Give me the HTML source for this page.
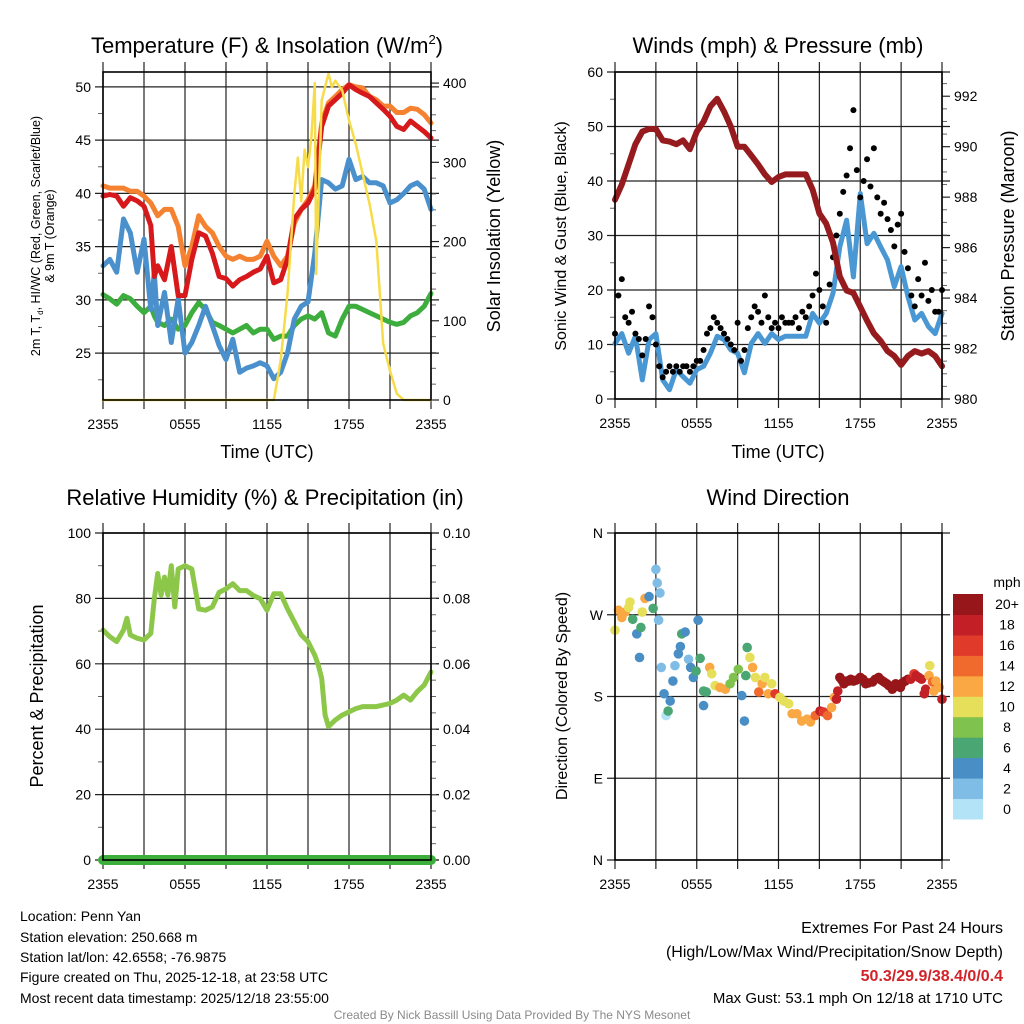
<!DOCTYPE html>
<html><head><meta charset="utf-8"><style>
html,body{margin:0;padding:0;background:#fff}
svg{display:block;font-family:"Liberation Sans",Arial,sans-serif}
</style></head><body>
<svg id="c" width="1024" height="1024" viewBox="0 0 1024 1024" xmlns="http://www.w3.org/2000/svg">
<g id="static">
<text x="267" y="53" font-size="22" text-anchor="middle">Temperature (F) &amp; Insolation (W/m<tspan font-size="13" dy="-9">2</tspan><tspan dy="9">)</tspan></text>
<text x="778" y="53" font-size="22" text-anchor="middle">Winds (mph) &amp; Pressure (mb)</text>
<text x="265" y="505" font-size="22" text-anchor="middle">Relative Humidity (%) &amp; Precipitation (in)</text>
<text x="778" y="505" font-size="22" text-anchor="middle">Wind Direction</text>
<text x="267" y="458" font-size="18" text-anchor="middle">Time (UTC)</text>
<text x="778" y="458" font-size="18" text-anchor="middle">Time (UTC)</text>
<g transform="translate(40,236) rotate(-90)" font-size="12.5" text-anchor="middle">
<text x="0" y="0">2m T, T<tspan font-size="8" dy="3">d</tspan><tspan dy="-3">, HI/WC (Red, Green, Scarlet/Blue)</tspan></text>
<text x="0" y="14">&amp; 9m T (Orange)</text></g>
<text transform="translate(500,236) rotate(-90)" font-size="18" text-anchor="middle">Solar Insolation (Yellow)</text>
<text transform="translate(566,236) rotate(-90)" font-size="16" text-anchor="middle">Sonic Wind &amp; Gust (Blue, Black)</text>
<text transform="translate(1014,236) rotate(-90)" font-size="18" text-anchor="middle">Station Pressure (Maroon)</text>
<text transform="translate(43,696) rotate(-90)" font-size="18" text-anchor="middle">Percent &amp; Precipitation</text>
<text transform="translate(567,696) rotate(-90)" font-size="16" text-anchor="middle">Direction (Colored By Speed)</text>
<g font-size="14">
<text x="20" y="921">Location: Penn Yan</text>
<text x="20" y="942">Station elevation: 250.668 m</text>
<text x="20" y="962">Station lat/lon: 42.6558; -76.9875</text>
<text x="20" y="982">Figure created on Thu, 2025-12-18, at 23:58 UTC</text>
<text x="20" y="1003">Most recent data timestamp: 2025/12/18 23:55:00</text>
</g>
<g text-anchor="end">
<text x="1003" y="933" font-size="16">Extremes For Past 24 Hours</text>
<text x="1003" y="957" font-size="16">(High/Low/Max Wind/Precipitation/Snow Depth)</text>
<text x="1003" y="981" font-size="16" font-weight="bold" fill="#d0242a">50.3/29.9/38.4/0/0.4</text>
<text x="1003" y="1003" font-size="15">Max Gust: 53.1 mph On 12/18 at 1710 UTC</text>
</g>
<text x="512" y="1019" font-size="12" fill="#8a8a8a" text-anchor="middle">Created By Nick Bassill Using Data Provided By The NYS Mesonet</text>
</g>
</svg>
<script>
// ---- data (hours since 2355 UTC) ----
const halfHours=[0,0.5,1,1.5,2,2.5,3,3.5,3.75,4,4.5,5,5.5,6,6.5,7,7.5,8,8.5,9,9.5,10,10.5,11,11.5,12,12.5,13,13.5,14,14.5,15,15.5,16,16.5,17,17.5,18,18.5,19,19.5,20,20.5,21,21.5,22,22.5,23,23.5,24];
const tempRed=[39.75,39.9,39.75,38.8,39.6,39.3,38.8,37,32.2,33.2,31.9,35,30.4,30.4,33.8,36.3,36,34.4,32.2,32,31.3,31.9,32.2,32.6,32.9,34.1,31.6,31.9,33.8,37.6,38.5,39.1,40.4,46.3,48.2,48.8,49.4,50.2,49.75,49.4,49.1,48.5,47.9,47.25,46.3,46,46.8,46.3,45.8,45.2];
const temp9m=[40.7,40.5,40.5,40.5,40.2,40.2,39.75,39.1,38.5,37.9,38.5,38.5,36.9,33.2,35,37.9,36.9,36.3,35,34.1,33.8,34.1,33.8,33.8,34.1,35.5,34.1,33.2,34.1,37.2,38.5,39.4,40.7,46.6,48.5,49.1,49.75,50.2,50,49.9,49.1,48.8,48.2,48.2,47.6,47.6,48,47.9,47.4,46.6];
const hiwcBlue=[33.2,33.8,32.6,37.6,36.3,32.6,35.7,29.1,32.6,27.6,30.7,26,30.1,25,26,27.6,29.4,27.6,25.7,24.4,26.3,23.2,23.6,23.8,24.1,23.8,22.6,23.2,25,28.2,29.4,29.8,34.4,41.3,41,40.4,40.7,43.2,41.3,41.6,41,41,40.7,39.1,39.4,40,40.7,41,40.4,38.5];
const dewGreen=[30.5,30.1,29.6,30.4,30.1,29.4,28.8,29.4,28.5,27.9,27.6,28.2,27.25,27.6,28.8,29.75,29.1,27.9,27.6,27.25,26.9,27.25,27.6,26.9,27.25,27.25,26.3,26.6,26.6,27.6,28.2,28.5,28.2,28.8,26.9,26.6,28.2,29.4,29.4,29.1,28.8,28.5,28.2,27.9,27.7,27.9,28.5,28.8,29.4,30.6];
const solarHours=[0,12.5,13,13.5,14,14.25,14.5,14.75,15,15.25,15.5,15.6,16,16.5,16.75,17,17.5,18,18.5,19,19.5,20,20.5,21,21.5,22,24];
const solarVals=[0,0,50,134,260,306,251,316,294,332,400,159,378,412,395,403,391,353,323,285,248,201,71,37,8,0,0];
const windHours=[0,0.5,1,1.5,2,2.5,3,3.5,4,4.5,5,5.5,6,6.5,7,7.5,8,8.5,9,9.5,10,10.5,11,11.5,12,12.5,13,13.5,14,14.5,15,15.5,16,16.5,17,17.5,18,18.5,19,19.5,20,20.5,21,21.5,22,22.5,23,23.5,24];
const windSpeed=[10.2,12,8.4,11.5,3.5,10.9,12,3.5,1.7,5.4,4.1,2.9,5.4,6,8.4,11.5,10.9,9,8.4,4.8,10.2,12,10.2,12,10.9,11.5,11.5,11.5,11.5,15.7,13.9,15.7,19.4,27.9,32.8,22.4,37.7,28.5,30.4,27.9,25.5,20.6,24.3,18.8,14.5,15.7,13.3,12,15.7];
const pressure=[987.9,988.5,989.3,990.1,990.6,990.7,990.7,990.25,990.2,990.1,990.25,989.9,990.6,991,991.6,991.9,991.4,990.8,990,990,989.65,989.3,988.9,988.6,988.8,988.9,988.9,988.9,988.9,988.3,987.35,986.95,986.2,984.85,984.3,984.2,983.65,983.1,982.6,982.3,981.9,981.7,981.35,981.7,981.9,981.8,981.9,981.7,981.3];
const gust=[12,19,22,15,14,16,12,11,8,11,17,15,10,6,4,5,6,5,6,5,6,6,5,6,7,7,9,12,13,15,14,13,12,11,10,9,14,7,9,13,15,17,16,14,19,15,13,14,13,15,14,14,14,15,13,16,15,17,19,23,20,17,14,21,26,30,34,38,41,46,53,42,37,40,44,39,46,37,34,36,33,31,28,32,34,27,24,19,17,22,19,25,18,20,16,16,20];
const rhHours=[0,0.5,1,1.5,1.75,2,2.5,3,3.5,3.75,4,4.25,4.5,4.75,5,5.25,5.5,6,6.5,7,7.5,8,8.5,9,9.5,10,10.5,11,11.5,12,12.5,13,13.5,14,14.5,15,15.5,15.75,16,16.25,16.5,17,17.5,18,18.5,19,19.5,20,20.5,21,21.5,22,22.5,23,23.5,24];
const rhVals=[70.3,68.3,66.8,70.3,73.9,68.8,67.8,67.3,69.3,79.9,87.6,81,86.5,81,90,77.4,89,90,89,76.8,76.4,77.4,81.9,82.9,84.5,82.4,82.4,80.9,79.9,76.4,81.4,81.4,76.8,72.8,68.8,66.8,62.6,59.6,55.5,44.3,40.8,42.8,44.3,45.3,46.3,46.9,46.9,46.9,47.4,47.9,48.9,50.4,48.9,51.5,53.5,57.5];
const precipHours=[0,24];
const precipVals=[0,0];
const dirHours=[0,0.25,0.5,0.75,1,1.1,1.3,1.6,1.8,1.9,2,2.2,2.5,2.8,3,3.1,3.3,3.2,3.4,3.6,3.75,3.9,4.05,4.25,4.4,4.65,4.8,4.9,5.15,5.4,5.55,5.75,5.95,6.1,6.25,6.5,6.7,6.5,6.95,7.1,7.35,7.7,8.1,8.45,8.7,9.05,9.3,9.5,9.6,9.7,9.9,10.1,10.3,10.55,10.8,11,11.25,11.5,11.75,12.1,12.4,12.75,13,13.35,13.7,14.1,14.35,14.7,15.05,15.3,15.6,15.9,16.1,16.25,16.35,16.5,16.65,16.8,17,17.15,17.3,17.5,17.7,18,18.2,18.4,18.6,18.9,19.1,19.35,19.55,19.75,19.95,20.1,20.35,20.6,20.8,20.95,21.1,21.3,21.5,21.7,21.95,22.1,22.3,22.5,22.7,22.8,23.05,23.1,23.3,23.4,23.55,23.8,24];
const dirVals=[253,275,267,273,278,284,265,249,223,256,273,288,290,277,320,305,294,264,212,183,159,164,175,197,214,227,235,249,251,221,212,201,208,264,222,186,185,170,212,205,192,190,188,194,201,210,181,153,203,234,223,212,201,185,194,201,183,194,183,179,175,172,161,161,153,155,152,159,164,163,159,168,179,177,186,201,198,194,197,197,199,197,198,201,199,194,195,196,199,201,198,196,194,192,188,194,191,190,195,197,199,199,205,203,201,199,183,188,203,214,196,186,197,190,177];
const dirSpeed=[10,12,12,12,10,10,6,4,4,6,10,12,4,6,2,2,2,2,2,4,1,6,4,4,2,4,4,6,4,2,4,4,6,4,6,6,6,4,12,10,10,12,12,8,8,8,4,4,6,6,10,12,10,14,12,10,12,10,16,10,10,10,12,12,12,12,12,14,18,16,14,12,12,18,18,20,20,20,20,20,20,20,20,20,20,20,20,20,20,20,20,20,20,20,20,20,20,20,20,20,20,18,16,18,18,18,18,18,12,10,14,12,12,12,18];
const speedBinColors=['#b3e3f7','#80bde6','#4a8ec6','#4aa672','#80c24e','#e6df5a','#f9a844','#f06a2e','#e03a2a','#c21f26','#961619'];
const binLabels=['0','2','4','6','8','10','12','14','16','18','20+'];
const xTickLabels=['2355','0555','1155','1755','2355'];
const tempTicks=[25,30,35,40,45,50];
const solarTicks=[0,100,200,300,400];
const windTicks=[0,10,20,30,40,50,60];
const presTicks=[980,982,984,986,988,990,992];
const rhTicks=[0,20,40,60,80,100];
const prTicks=['0.00','0.02','0.04','0.06','0.08','0.10'];
const dirTicks=['N','E','S','W','N'];

const NS='http://www.w3.org/2000/svg';
const svg=document.getElementById('c');
function mk(tag,attrs,parent){const e=document.createElementNS(NS,tag);for(const k in attrs)e.setAttribute(k,attrs[k]);(parent||svg).appendChild(e);return e;}
function lin(d0,d1,r0,r1){return v=>r0+(v-d0)/(d1-d0)*(r1-r0);}
function panel(name,x0,x1,y0,y1){
  const g=mk('g',{});
  
  
  return {g,x:lin(0,24,x0,x1),x0,x1,y0,y1};
}
function frame(P){
  for(let h=0;h<=24;h+=3){const X=P.x(h);
    const l=mk('line',{x1:X,x2:X,y1:P.y0-10,y2:P.y1+9,stroke:'#222','stroke-width':1.2},P.g);
    
    }
  xTickLabels.forEach((t,i)=>{const tx=mk('text',{x:P.x(i*6),y:P.y1+29,'font-size':14,'text-anchor':'middle'},P.g);tx.textContent=t;
    
    });
}
function border(P){
  const r=mk('rect',{x:P.x0,y:P.y0,width:P.x1-P.x0,height:P.y1-P.y0,fill:'none',stroke:'#000','stroke-width':1.6},P.g);
  
  
}
function hgrid(P,Y,label){
  const l=mk('line',{x1:P.x0-8,x2:P.x1+8,y1:Y,y2:Y,stroke:'#222','stroke-width':1.2},P.g);
  
  
  if(label!==null){const t=mk('text',{x:P.x0-12,y:Y+5,'font-size':14,'text-anchor':'end'},P.g);t.textContent=label;
    
    }
}
function rlabel(P,Y,label){
  mk('line',{x1:P.x1,x2:P.x1+8,y1:Y,y2:Y,stroke:'#222','stroke-width':1.2},P.g);
  const t=mk('text',{x:P.x1+12,y:Y+5,'font-size':14},P.g);t.textContent=label;
  
  
}
function minor(P,Y,right){const x=right?P.x1:P.x0;mk('line',{x1:x,x2:right?x+5:x-5,y1:Y,y2:Y,stroke:'#666','stroke-width':1},P.g);}
function path(P,xs,ys,ymap,color,w,name){
  const d=xs.map((h,i)=>(i?'L':'M')+P.x(h).toFixed(1)+','+ymap(ys[i]).toFixed(1)).join('');
  const p=mk('path',{d,fill:'none',stroke:color,'stroke-width':w,'stroke-linejoin':'round','stroke-linecap':'round'},P.g);
  
  
  return p;
}

// ---- Panel 1: temperature ----
const P1=panel('temperature-panel',103,431,72,400);
const yT=lin(20.6,51.4,400,72), yS=lin(0,414,400,72);
frame(P1);
tempTicks.forEach(v=>hgrid(P1,yT(v),String(v)));
for(let v=22.5;v<51;v+=5)minor(P1,yT(v),false);
solarTicks.forEach(v=>rlabel(P1,yS(v),String(v)));
for(let v=20;v<414;v+=20)if(v%100)minor(P1,yS(v),true);
path(P1,halfHours,dewGreen,yT,'#3dae3d',5,'dewpoint-line');
path(P1,halfHours,hiwcBlue,yT,'#4a90cc',5,'heat-index-windchill-line');
path(P1,halfHours,temp9m,yT,'#f58231',5,'9m-temperature-line');
path(P1,halfHours,tempRed,yT,'#d7191c',5,'2m-temperature-line');
path(P1,solarHours,solarVals,yS,'#f7dc4a',2.5,'solar-insolation-line');
border(P1);

// ---- Panel 2: winds ----
const P2=panel('winds-panel',615,942,72,399);
const yW=lin(0,60,399,72), yP=lin(980,993,399,71);
frame(P2);
windTicks.forEach(v=>hgrid(P2,yW(v),String(v)));
for(let v=5;v<60;v+=10)minor(P2,yW(v),false);
presTicks.forEach(v=>rlabel(P2,yP(v),String(v)));
for(let v=980.5;v<993;v+=0.5)if(v%2)minor(P2,yP(v),true);
path(P2,windHours,windSpeed,yW,'#4a98d3',5,'sonic-wind-line');
gust.forEach((v,i)=>{const c=mk('circle',{cx:P2.x(i*0.25),cy:yW(v),r:3,fill:'#000'},P2.g);
  
  });
path(P2,windHours,pressure,yP,'#951b1e',6,'pressure-line');
border(P2);

// ---- Panel 3: humidity ----
const P3=panel('humidity-panel',103,431,533,860);
const yR=lin(0,100,860,533), yPr=lin(0,0.1,860,533);
frame(P3);
rhTicks.forEach(v=>hgrid(P3,yR(v),String(v)));
for(let v=10;v<100;v+=20)minor(P3,yR(v),false);
prTicks.forEach(v=>rlabel(P3,yPr(+v),v));
for(let v=0.005;v<0.1;v+=0.005)minor(P3,yPr(v),true);
path(P3,rhHours,rhVals,yR,'#8dc74a',5,'relative-humidity-line');
path(P3,precipHours,precipVals,yPr,'#3cae3c',10,'precipitation-line');
border(P3);

// ---- Panel 4: wind direction ----
const P4=panel('wind-direction-panel',615,942,533,860);
const yD=lin(0,360,860,533);
frame(P4);
dirTicks.forEach((t,i)=>hgrid(P4,yD(i*90),t));
dirHours.forEach((h,i)=>{const b=Math.min(10,Math.floor(dirSpeed[i]/2));
  const c=mk('circle',{cx:P4.x(h),cy:yD(dirVals[i]),r:4.8,fill:speedBinColors[b]},P4.g);
  
  });
border(P4);
const cb=mk('g',{});


const bh=(819-594)/11;
speedBinColors.forEach((col,i)=>{const yy=819-(i+1)*bh;
  const r=mk('rect',{x:953,y:yy,width:30,height:bh+0.5,fill:col},cb);
  
  
  const t=mk('text',{x:1007,y:yy+bh/2+5,'font-size':14,'text-anchor':'middle'},cb);t.textContent=binLabels[i];
  
  });
const mt=mk('text',{x:1007,y:587,'font-size':14,'text-anchor':'middle'},cb);mt.textContent='mph';


</script>
</body></html>
